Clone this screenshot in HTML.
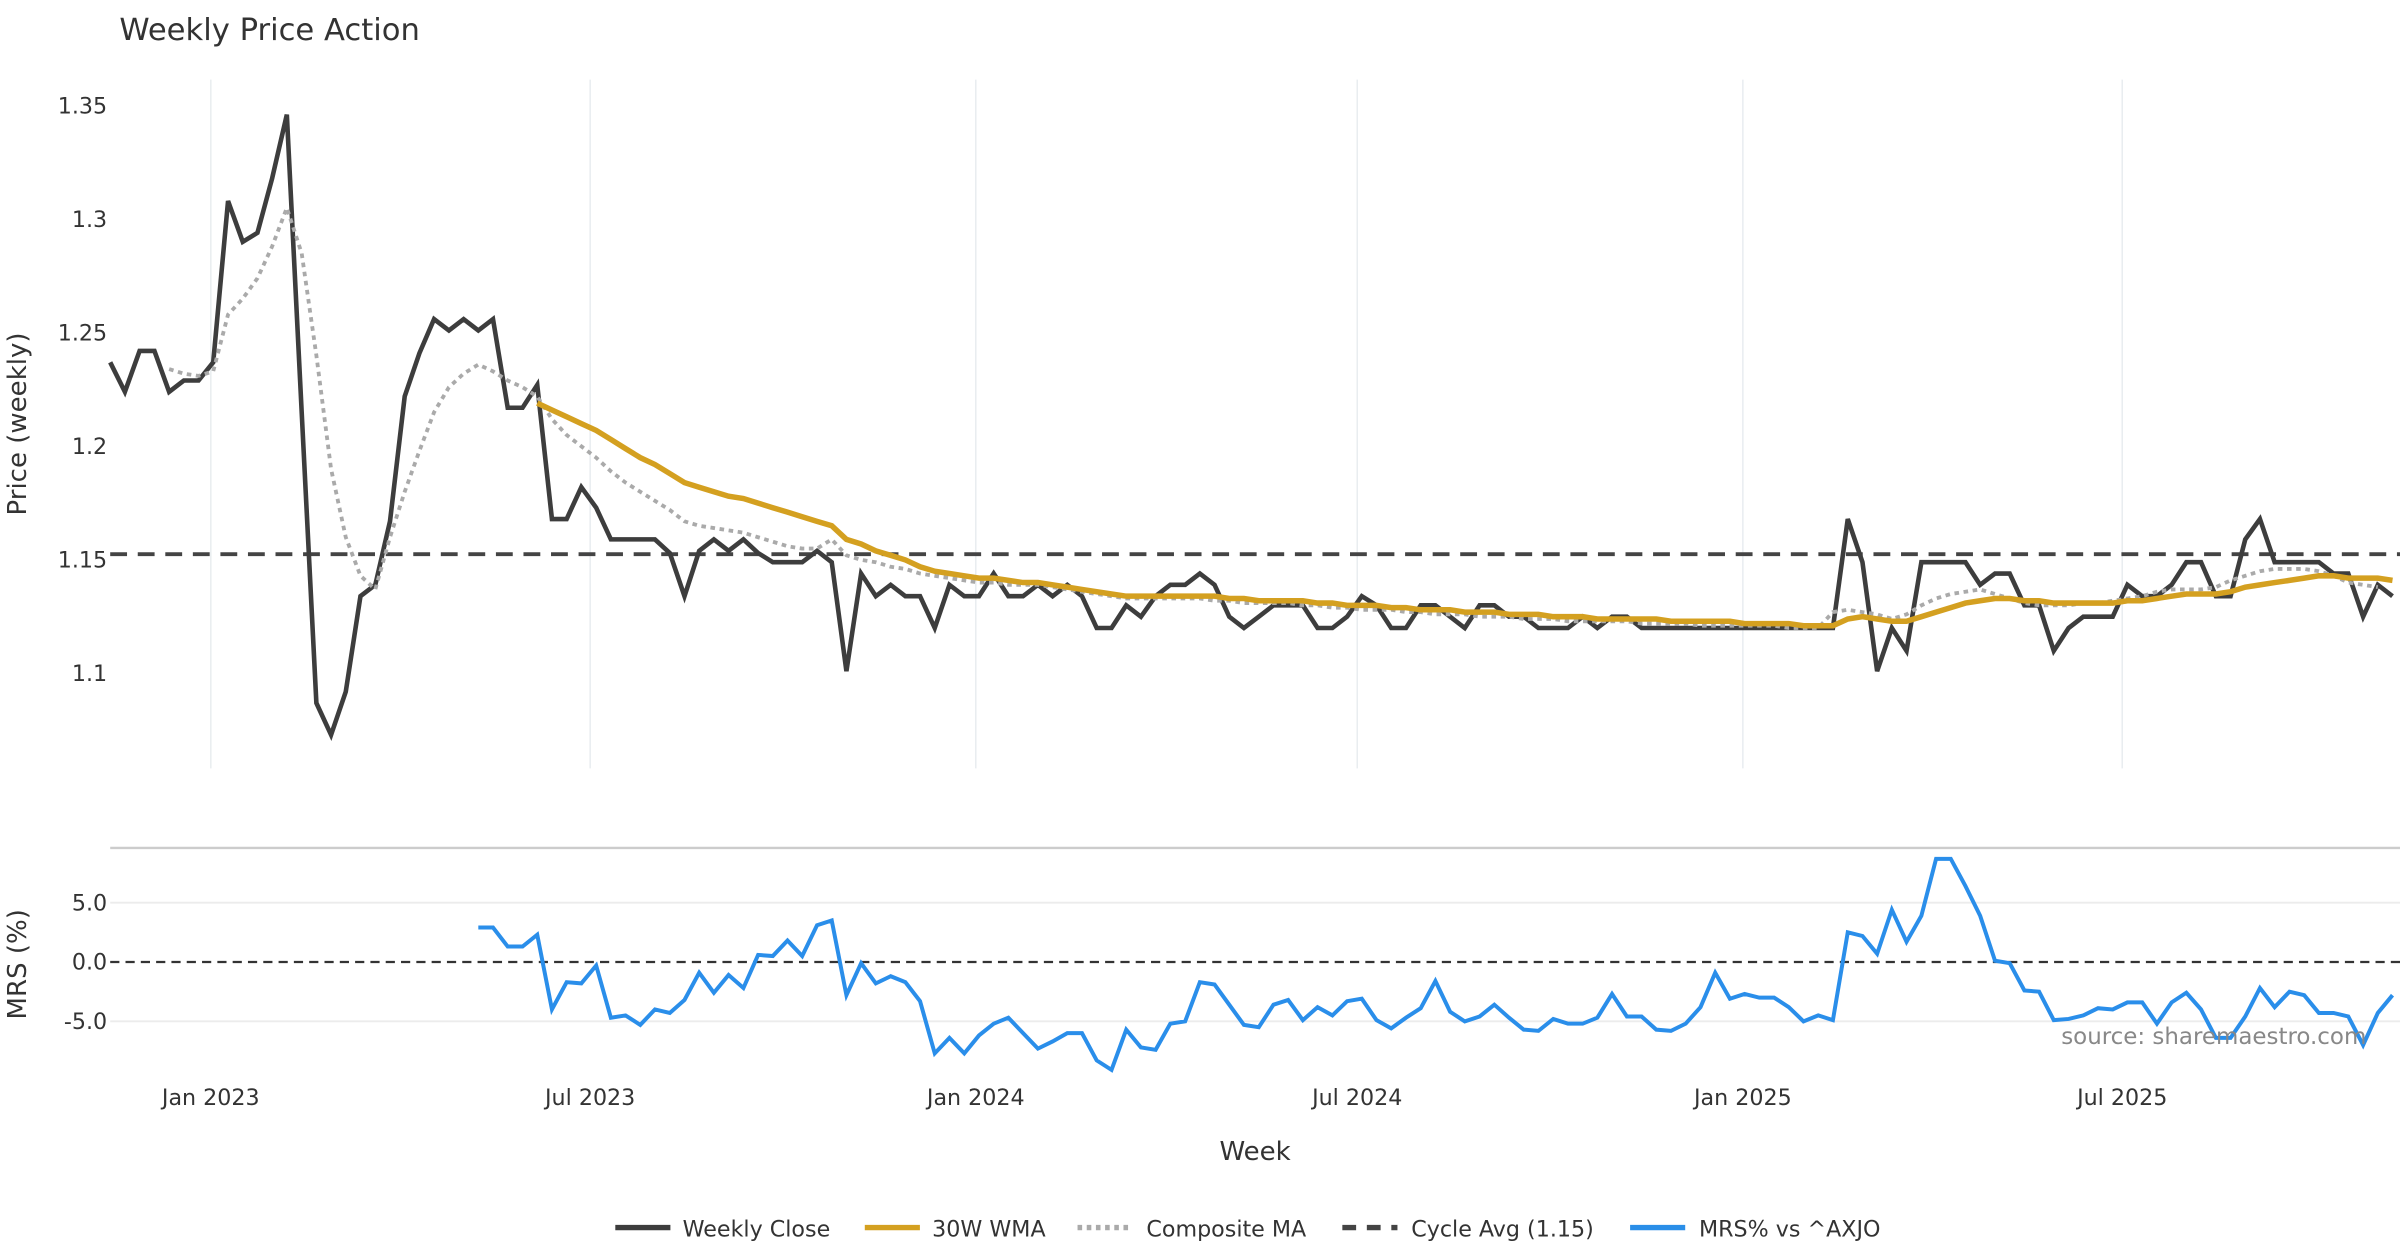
<!DOCTYPE html>
<html><head><meta charset="utf-8"><style>
html,body{margin:0;padding:0;background:#fff;}
svg{display:block;font-family:"DejaVu Sans","Liberation Sans",sans-serif;}
</style></head><body>
<svg id="chart" width="2400" height="1260" viewBox="0 0 1568 823.2" xmlns="http://www.w3.org/2000/svg">
<text x="78" y="26" font-size="20" fill="#333">Weekly Price Action</text>
<text transform="translate(17,277) rotate(-90)" text-anchor="middle" font-size="17" fill="#333">Price (weekly)</text>
<text transform="translate(17,630) rotate(-90)" text-anchor="middle" font-size="17" fill="#333">MRS (%)</text>
<text x="820" y="758" text-anchor="middle" font-size="17" fill="#333">Week</text>
<line x1="72" y1="554" x2="1568" y2="554" stroke="#ccc" stroke-width="1.5"/>
<g id="grid"></g>
<g id="marks"></g>
<text x="1546" y="682" text-anchor="end" font-size="15" fill="#888">source: sharemaestro.com</text>
<g id="legend"></g>
</svg>
<script>
const closes=[1.237,1.224,1.242,1.242,1.224,1.229,1.229,1.237,1.308,1.290,1.294,1.318,1.346,1.215,1.087,1.073,1.092,1.134,1.139,1.167,1.222,1.241,1.256,1.251,1.256,1.251,1.256,1.217,1.217,1.227,
1.168,1.168,1.182,1.173,1.159,1.159,1.159,1.159,1.153,1.134,1.154,1.159,1.154,1.159,1.153,1.149,1.149,1.149,1.154,1.149,
1.101,1.144,1.134,1.139,1.134,1.134,1.120,1.139,1.134,1.134,1.144,1.134,1.134,1.139,1.134,1.139,1.134,1.120,1.120,1.130,
1.125,1.134,1.139,1.139,1.144,1.139,1.125,1.120,1.125,1.130,1.130,1.130,1.120,1.120,1.125,1.134,1.130,1.120,1.120,1.130,
1.130,1.125,1.120,1.130,1.130,1.125,1.125,1.120,1.120,1.120,1.125,1.120,1.125,1.125,1.120,1.120,1.120,1.120,1.120,1.120,
1.120,1.120,1.120,1.120,1.120,1.120,1.120,1.120,1.168,1.149,1.101,1.120,1.110,1.149,1.149,1.149,1.149,1.139,1.144,1.144,
1.130,1.130,1.110,1.120,1.125,1.125,1.125,1.139,1.134,1.134,1.139,1.149,1.149,1.134,1.134,1.159,1.168,1.149,1.149,1.149,
1.149,1.144,1.144,1.125,1.139,1.134];
const compStart=4;
const composite=[1.234,1.232,1.231,1.233,1.258,1.265,1.274,1.288,1.305,1.285,1.240,1.190,1.160,1.143,1.137,1.160,1.180,1.198,1.215,1.226,1.232,1.236,1.233,1.229,1.226,
1.222,1.212,1.205,1.200,1.195,1.189,1.184,1.180,1.176,1.172,1.167,1.165,1.164,1.163,1.162,1.160,1.158,1.156,1.155,1.155,1.159,1.152,1.150,1.149,1.147,1.146,1.144,1.143,1.142,1.141,1.140,1.140,1.139,1.139,1.139,1.138,
1.137,1.136,1.135,1.134,1.133,1.133,1.133,1.133,1.133,1.133,1.132,1.132,1.131,1.131,1.131,1.131,1.130,1.130,1.129,1.129,1.128,1.128,1.128,1.127,1.127,1.126,1.126,1.126,1.125,1.125,1.125,1.124,1.124,1.124,1.123,1.123,1.123,1.123,1.123,1.122,1.122,1.122,1.122,1.121,1.121,1.121,1.121,1.121,1.121,1.120,1.120,1.120,
1.127,1.128,1.127,1.126,1.124,1.126,1.130,1.133,1.135,1.136,1.137,1.135,1.133,1.131,1.130,1.130,1.130,1.131,1.131,1.132,1.133,1.134,1.136,1.137,1.137,1.137,1.138,1.141,1.143,1.145,1.146,1.146,1.146,1.145,1.143,1.140,1.139,1.138];
const wmaStart=29;
const wma=[1.219,1.216,1.213,1.210,1.207,1.203,1.199,1.195,1.192,1.188,1.184,1.182,1.180,1.178,1.177,1.175,1.173,1.171,1.169,1.167,1.165,1.159,1.157,1.154,1.152,1.150,1.147,1.145,1.144,1.143,1.142,1.142,1.141,1.140,1.140,1.139,1.138,1.137,1.136,1.135,1.134,1.134,1.134,1.134,1.134,1.134,1.134,1.133,1.133,1.132,1.132,1.132,1.132,1.131,1.131,1.130,1.130,1.130,1.129,1.129,1.128,1.128,1.128,1.127,1.127,1.127,1.126,1.126,1.126,1.125,1.125,1.125,1.124,1.124,1.124,1.124,1.124,1.123,1.123,1.123,1.123,1.123,1.122,1.122,1.122,1.122,1.121,1.121,1.121,1.124,1.125,1.124,1.123,1.123,1.125,1.127,1.129,1.131,1.132,1.133,1.133,1.132,1.132,1.131,1.131,1.131,1.131,1.131,1.132,1.132,1.133,1.134,1.135,1.135,1.135,1.136,1.138,1.139,1.140,1.141,1.142,1.143,1.143,1.142,1.142,1.142,1.141];
const mrsStart=25;
const mrs=[2.9,2.9,1.3,1.3,2.3,-4.0,-1.7,-1.8,-0.3,-4.7,-4.5,-5.3,-4.0,-4.3,-3.2,-0.9,-2.6,-1.1,-2.2,0.6,0.5,1.8,0.5,3.1,3.5,
-2.8,-0.1,-1.8,-1.2,-1.7,-3.3,-7.7,-6.4,-7.7,-6.2,-5.2,-4.7,-6.0,-7.3,-6.7,-6.0,-6.0,-8.3,-9.1,-5.7,-7.2,-7.4,-5.2,-5.0,-1.7,
-1.9,-3.6,-5.3,-5.5,-3.6,-3.2,-4.9,-3.8,-4.5,-3.3,-3.1,-4.9,-5.6,-4.7,-3.9,-1.6,-4.2,-5.0,-4.6,-3.6,-4.7,-5.7,-5.8,-4.8,-5.2,
-5.2,-4.7,-2.7,-4.6,-4.6,-5.7,-5.8,-5.2,-3.8,-0.9,-3.1,-2.7,-3.0,-3.0,-3.8,-5.0,-4.5,-4.9,2.5,2.2,0.7,4.4,1.7,3.9,8.7,
8.7,6.4,3.9,0.1,-0.1,-2.4,-2.5,-4.9,-4.8,-4.5,-3.9,-4.0,-3.4,-3.4,-5.2,-3.4,-2.6,-4.0,-6.4,-6.4,-4.6,-2.2,-3.8,-2.5,-2.8,
-4.3,-4.3,-4.6,-7.0,-4.3,-2.8];
const cycleAvg=1.1525;
const priceTicks=[1.1,1.15,1.2,1.25,1.3,1.35];
const priceTickLabels=["1.1","1.15","1.2","1.25","1.3","1.35"];
const mrsTicks=[-5,0,5];
const mrsTickLabels=["-5.0","0.0","5.0"];
const dateTicks=["2023-01-01","2023-07-01","2024-01-01","2024-07-01","2025-01-01","2025-07-01"];
const dateTickLabels=["Jan 2023","Jul 2023","Jan 2024","Jul 2024","Jan 2025","Jul 2025"];
const startDate="2022-11-14";

const NS="http://www.w3.org/2000/svg";
const xW=i=>72+9.62*i;
const xDate=d=>72+9.585*((new Date(d)-new Date(startDate))/(7*864e5));
const yP=p=>440-(p-1.1)*1484;
const yM=v=>628.5-v*7.75;
function mk(tag,attrs,parent){const e=document.createElementNS(NS,tag);for(const k in attrs)e.setAttribute(k,attrs[k]);parent.appendChild(e);return e;}
const grid=document.getElementById('grid'),marks=document.getElementById('marks'),legend=document.getElementById('legend');
dateTicks.forEach((d,k)=>{const x=xDate(d);
 const g=mk('line',{x1:x,x2:x,y1:52,y2:502,stroke:'#e9edf0','stroke-width':1},grid);
 
 
 const t=mk('text',{x:x,y:722,'text-anchor':'middle','font-size':14.5,fill:'#333'},grid);t.textContent=dateTickLabels[k];
 
 
});
priceTicks.forEach((p,k)=>{const t=mk('text',{x:70,y:yP(p)+5,'text-anchor':'end','font-size':14.5,fill:'#333'},grid);t.textContent=priceTickLabels[k];
 
 
});
mrsTicks.forEach((v,k)=>{
 if(v!==0){const l=mk('line',{x1:72,x2:1568,y1:yM(v),y2:yM(v),stroke:'#ececec','stroke-width':1.2},grid);
 
 }
 const t=mk('text',{x:70,y:yM(v)+5,'text-anchor':'end','font-size':14.5,fill:'#333'},grid);t.textContent=mrsTickLabels[k];
 
 
});
function path(vals,start,yf){return vals.map((v,i)=>(i?'L':'M')+xW(start+i).toFixed(1)+','+yf(v).toFixed(1)).join(' ');}
const ca=mk('line',{x1:72,x2:1568,y1:yP(cycleAvg),y2:yP(cycleAvg),stroke:'#444','stroke-width':2.5,'stroke-dasharray':'11,7'},marks);


const z=mk('line',{x1:72,x2:1568,y1:yM(0),y2:yM(0),stroke:'#333','stroke-width':1.5,'stroke-dasharray':'6,4'},marks);


const cl=mk('path',{d:path(closes,0,yP),fill:'none',stroke:'#3d3d3d','stroke-width':3,'stroke-linejoin':'miter'},marks);


const cm=mk('path',{d:path(composite,compStart,yP),fill:'none',stroke:'#aaa','stroke-width':2.5,'stroke-dasharray':'3,3'},marks);


const wl=mk('path',{d:path(wma,wmaStart,yP),fill:'none',stroke:'#d4a020','stroke-width':3.6},marks);


const ml=mk('path',{d:path(mrs,mrsStart,yM),fill:'none',stroke:'#2a8eea','stroke-width':2.6},marks);


const items=[["Weekly Close","#3d3d3d",'',402,446],["30W WMA","#d4a020",'',565,609],["Composite MA","#aaa",'3,3',704,749],["Cycle Avg (1.15)","#444",'9,7',877,922],["MRS% vs ^AXJO","#2a8ee8",'',1065,1110]];
items.forEach(it=>{
 const l=mk('line',{x1:it[3],x2:it[3]+36,y1:802,y2:802,stroke:it[1],'stroke-width':3.5,'stroke-dasharray':it[2]},legend);
 
 
 const t=mk('text',{x:it[4],y:808,'font-size':14.5,fill:'#333'},legend);t.textContent=it[0];
 
 
});
</script>
</body></html>
